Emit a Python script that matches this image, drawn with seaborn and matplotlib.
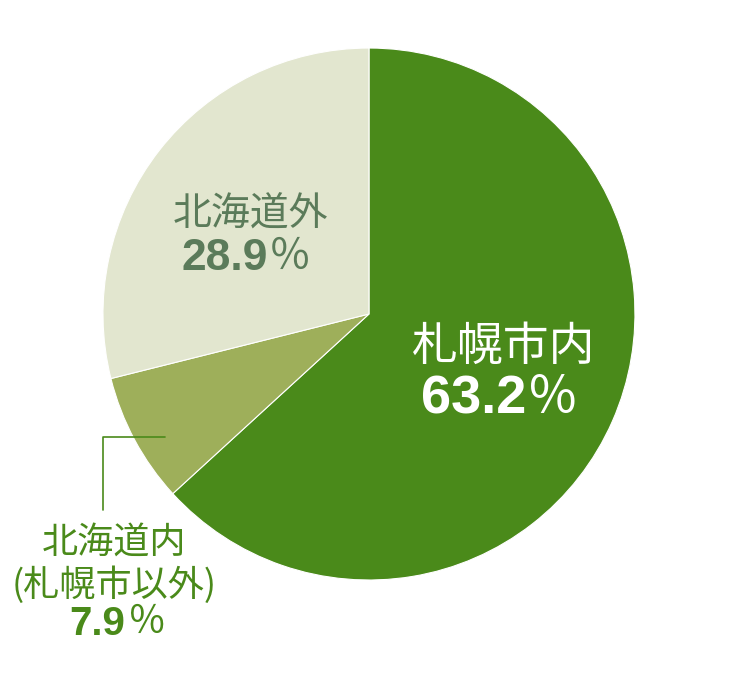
import matplotlib
matplotlib.use("Agg")
import matplotlib.pyplot as plt
import seaborn as sns

sns.set_theme(style="white")
plt.rcParams['font.family'] = ['Noto Sans CJK JP', 'DejaVu Sans']

# data
labels = ['札幌市内', '北海道内\n(札幌市以外)', '北海道外']
shares = [63.2, 7.9, 28.9]
colors = ['#4a8a1a', '#9eaf5a', '#e2e6cf']

fig = plt.figure(figsize=(7.5, 7), dpi=100)
ax = fig.add_axes([0.1373, 0.1714, 0.7093, 0.76])
ax.pie(shares, colors=colors, startangle=90, counterclock=False, radius=1,
       wedgeprops=dict(edgecolor='white', linewidth=0.8))
ax.set_xlim(-1, 1)
ax.set_ylim(-1, 1)
ax.set_aspect('equal')
ax.axis('off')

num_font = ['Liberation Sans', 'DejaVu Sans']
pct_font = ['Noto Sans CJK JP', 'DejaVu Sans']

def put_label(name, val, xy_name, xy_num, split_x, color, fs_name, fs_num):
    ax.text(xy_name[0], xy_name[1], name, color=color, fontsize=fs_name,
            ha='center', va='center', linespacing=1.2, clip_on=False)
    ax.text(split_x, xy_num[1], f'{val:.1f}', color=color, fontsize=fs_num,
            fontweight='bold', family=num_font, ha='right', va='center', clip_on=False)
    ax.text(split_x + 0.005, xy_num[1] + 0.005, '％', color=color, fontsize=fs_num * 0.95,
            family=pct_font, ha='left', va='center', clip_on=False)

put_label(labels[0], shares[0], (0.505, -0.124), (0.49, -0.32), 0.59, 'white', 33, 39)
put_label(labels[2], shares[2], (-0.447, 0.372), (-0.447, 0.21), -0.38, '#5b7b5a', 28, 32)
put_label(labels[1], shares[1], (-0.959, -0.942), (-0.959, -1.165), -0.915, '#4a8a1a', 26, 29)

# leader line for the small slice
ax.plot([-0.767, -1.0, -1.0], [-0.462, -0.462, -0.737], color='#4a8a1a',
        linewidth=1.2, clip_on=False)

fig.savefig('out.png', dpi=100)
